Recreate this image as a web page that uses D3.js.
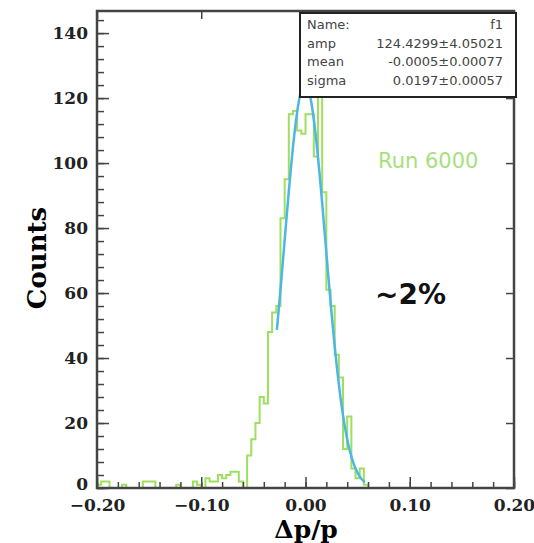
<!DOCTYPE html>
<html>
<head>
<meta charset="utf-8">
<script src="https://cdn.jsdelivr.net/npm/d3@7"></script>
<style>
  body { margin: 0; background: #fff; }
  .tick text { font-family: "DejaVu Serif", serif; font-weight: bold; font-size: 17px; fill: #222; }
</style>
</head>
<body>
<div id="chart"></div>
<script>
// histogram: 100 bins between -0.2 and 0.2
const binLo = -0.2, binHi = 0.2;
const counts = [
  1, 2, 2, 0, 0, 0, 1, 0, 0, 0,
  0, 2, 2, 2, 0, 0, 0, 0, 0, 1,
  0, 0, 0, 2, 1, 0, 3, 2, 2, 4,
  3, 4, 5, 5, 2, 0, 10, 15, 20, 28,
  26, 48, 54, 56, 83, 95, 115, 116, 110, 109,
  115, 115, 102, 126, 91, 61, 56, 41, 34, 12,
  22, 6, 3, 6, 1, 0, 0, 0, 0, 0,
  0, 0, 0, 0, 0, 0, 0, 0, 0, 0,
  0, 0, 0, 0, 0, 0, 0, 0, 0, 0,
  0, 0, 0, 0, 0, 0, 0, 0, 0, 0
];

// gaussian fit f1
const fitAmp = 124.4299, fitMean = -0.0005, fitSigma = 0.0197;
const fitRange = [-0.0275, 0.057];

// tick labels
const xTicks = [-0.2, -0.1, 0, 0.1, 0.2];
const yTicks = [0, 20, 40, 60, 80, 100, 120, 140];

// stats box rows
const statNames = ["Name:", "amp", "mean", "sigma"];
const statValues = ["f1", "124.4299\u00b14.05021", "-0.0005\u00b10.00077", "0.0197\u00b10.00057"];

const W = 534, H = 543;
const plot = {left: 97, right: 514, top: 11, bottom: 488};

const svg = d3.select("#chart").append("svg")
    .attr("width", W)
    .attr("height", H);

const x = d3.scaleLinear().domain([binLo, binHi]).range([plot.left, plot.right]);
const y = d3.scaleLinear().domain([0, 146.8]).range([plot.bottom, plot.top]);

// histogram outline
const bw = (binHi - binLo) / counts.length;
const steps = counts.map((c, i) => [binLo + i * bw, c]);
steps.push([binHi, counts[counts.length - 1]]);

svg.append("path")
   .datum(steps)
   .attr("fill", "none")
   .attr("stroke", "#9ee05e")
   .attr("stroke-width", 2)
   .attr("d", d3.line().x(d => x(d[0])).y(d => y(d[1])).curve(d3.curveStepAfter));

// fit curve
const fitPts = d3.range(0, 201).map(i => {
  const v = fitRange[0] + (fitRange[1] - fitRange[0]) * i / 200;
  return [v, fitAmp * Math.exp(-0.5 * Math.pow((v - fitMean) / fitSigma, 2))];
});
svg.append("path")
   .datum(fitPts)
   .attr("fill", "none")
   .attr("stroke", "#4cb6e6")
   .attr("stroke-width", 2.5)
   .attr("d", d3.line().x(d => x(d[0])).y(d => y(d[1])));

// axes
const xMinor = d3.range(-0.2, 0.2001, 0.02);
const yMinor = d3.range(0, 146, 4);

svg.append("g")
   .attr("transform", `translate(0,${plot.bottom})`)
   .call(d3.axisBottom(x).tickValues(xMinor).tickSize(-6).tickFormat(""))
   .call(g => g.select(".domain").remove());
svg.append("g")
   .attr("transform", `translate(0,${plot.bottom})`)
   .call(d3.axisBottom(x).tickValues(xTicks).tickSize(-11).tickPadding(11).tickFormat(d3.format(".2f")))
   .call(g => g.select(".domain").remove());

svg.append("g")
   .attr("transform", `translate(${plot.left},0)`)
   .call(d3.axisLeft(y).tickValues(yMinor).tickSize(-7).tickFormat(""))
   .call(g => g.select(".domain").remove());
svg.append("g")
   .attr("transform", `translate(${plot.left},0)`)
   .call(d3.axisLeft(y).tickValues(yTicks).tickSize(-12).tickPadding(9))
   .call(g => g.select(".domain").remove())
   .call(g => g.selectAll(".tick text").filter(d => d === 0).attr("dy", "0.1em"));

// right and top ticks
svg.append("g")
   .attr("transform", `translate(${plot.right},0)`)
   .call(d3.axisRight(y).tickValues(yTicks).tickSize(-8).tickFormat(""))
   .call(g => g.select(".domain").remove());
svg.append("g")
   .attr("transform", `translate(0,${plot.top})`)
   .call(d3.axisTop(x).tickValues(xTicks).tickSize(-8).tickFormat(""))
   .call(g => g.select(".domain").remove());

svg.selectAll(".tick line").attr("stroke", "#444").attr("stroke-width", 1.5);

// frame
svg.append("rect")
   .attr("x", plot.left).attr("y", plot.top)
   .attr("width", plot.right - plot.left)
   .attr("height", plot.bottom - plot.top)
   .attr("fill", "none")
   .attr("stroke", "#444")
   .attr("stroke-width", 2.5);

// axis titles
svg.append("text")
   .attr("transform", "translate(46,258) rotate(-90)")
   .attr("text-anchor", "middle")
   .style("font-family", "DejaVu Serif, serif")
   .style("font-weight", "bold")
   .style("font-size", "26px")
   .text("Counts");

svg.append("text")
   .attr("x", 306).attr("y", 538)
   .attr("text-anchor", "middle")
   .style("font-family", "DejaVu Serif, serif")
   .style("font-weight", "bold")
   .style("font-size", "25px")
   .text("\u0394p/p");

// annotations
svg.append("text")
   .attr("x", 378).attr("y", 168)
   .style("font-family", "DejaVu Sans, sans-serif")
   .style("font-size", "21px")
   .attr("fill", "#a8df7e")
   .text("Run 6000");

svg.append("text")
   .attr("x", 375).attr("y", 304)
   .style("font-family", "DejaVu Sans, sans-serif")
   .style("font-weight", "bold")
   .style("font-size", "28px")
   .attr("fill", "#111")
   .text("~2%");

// stats box
const box = svg.append("g");
box.append("rect")
   .attr("x", 300).attr("y", 13)
   .attr("width", 216).attr("height", 84)
   .attr("fill", "#fff")
   .attr("stroke", "#222")
   .attr("stroke-width", 2);

statNames.forEach((n, i) => {
  box.append("text")
     .attr("x", 307).attr("y", 29 + i * 18.6)
     .style("font-family", "DejaVu Sans, sans-serif")
     .style("font-size", "13px")
     .attr("fill", "#444")
     .text(n);
  box.append("text")
     .attr("x", 503).attr("y", 29 + i * 18.6)
     .attr("text-anchor", "end")
     .style("font-family", "DejaVu Sans, sans-serif")
     .style("font-size", "13px")
     .attr("fill", "#444")
     .text(statValues[i]);
});
</script>
</body>
</html>
